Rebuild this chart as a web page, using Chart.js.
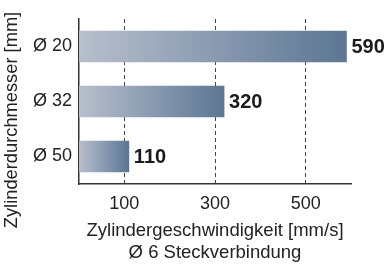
<!DOCTYPE html>
<html>
<head>
<meta charset="utf-8">
<script src="https://cdn.jsdelivr.net/npm/chart.js@4"></script>
<style>
  html, body { margin: 0; padding: 0; background: #fff; }
  #wrap { width: 392px; height: 266px; }
</style>
</head>
<body>
<div id="wrap"><canvas id="myChart" width="392" height="266"></canvas></div>
<script>
// Cylinder speed per bore size
const categories = ['Ø 20', 'Ø 32', 'Ø 50'];
const speeds = [590, 320, 110];
const xTicks = [100, 300, 500];
const xTitle = ['Zylindergeschwindigkeit [mm/s]', 'Ø 6 Steckverbindung'];
const yTitle = 'Zylinderdurchmesser [mm]';

const FONT = "'Liberation Sans', Arial, Helvetica, sans-serif";

// gradient from light grey-blue to slate blue, per bar
function barGradient(c) {
    const chart = c.chart;
    if (!chart.chartArea) return '#8a97ab';
    const x = chart.scales.x;
    const x0 = x.getPixelForValue(0);
    const x1 = x.getPixelForValue(c.raw);
    const g = chart.ctx.createLinearGradient(x0, 0, x1, 0);
    g.addColorStop(0, '#b8bfcd');
    g.addColorStop(1, '#5c7694');
    return g;
}

// value labels at the bar ends + rotated y title
const extras = {
    id: 'extras',
    afterDatasetsDraw(chart) {
        const ctx = chart.ctx;
        const meta = chart.getDatasetMeta(0);
        ctx.save();
        ctx.font = 'bold 20px ' + FONT;
        ctx.fillStyle = '#1a1a1a';
        ctx.textBaseline = 'middle';
        ctx.textAlign = 'left';
        meta.data.forEach((bar, i) => {
            ctx.fillText(String(speeds[i]), bar.x + 5, bar.y + 1);
        });
        ctx.restore();

        ctx.save();
        ctx.translate(12, 120);
        ctx.rotate(-Math.PI / 2);
        ctx.font = '18.3px ' + FONT;
        ctx.fillStyle = '#222';
        ctx.textAlign = 'center';
        ctx.textBaseline = 'middle';
        ctx.fillText(yTitle, 0, 0);
        ctx.restore();
    }
};

const ctx = document.getElementById("myChart").getContext("2d");
const myChart = new Chart(ctx, {
    type: 'bar',
    data: {
        labels: categories,
        datasets: [{
            data: speeds,
            backgroundColor: barGradient,
            borderWidth: 0,
            barThickness: 31
        }]
    },
    options: {
        indexAxis: 'y',
        responsive: false,
        animation: false,
        layout: { padding: { top: 19, right: 41, left: 0, bottom: 0 } },
        plugins: {
            legend: { display: false },
            tooltip: { enabled: false }
        },
        scales: {
            x: {
                min: 0,
                max: 600,
                afterBuildTicks: (axis) => { axis.ticks = xTicks.map(v => ({ value: v })); },
                afterFit: (axis) => { axis.height = 82; },
                grid: { color: '#444', lineWidth: 1, drawTicks: false },
                border: { display: true, color: '#333', width: 1.5, dash: [4, 3] },
                ticks: { color: '#222', font: { family: FONT, size: 18 }, padding: 9 },
                title: {
                    display: true,
                    text: xTitle,
                    color: '#222',
                    font: { family: FONT, size: 18.5, lineHeight: 1.2 },
                    padding: { top: 2, bottom: 2 }
                }
            },
            y: {
                afterFit: (axis) => { axis.width = 79; },
                grid: { display: false, drawTicks: false },
                border: { display: true, color: '#333', width: 1.5 },
                ticks: { color: '#222', font: { family: FONT, size: 18 }, padding: 7 }
            }
        }
    },
    plugins: [extras]
});
</script>
</body>
</html>
